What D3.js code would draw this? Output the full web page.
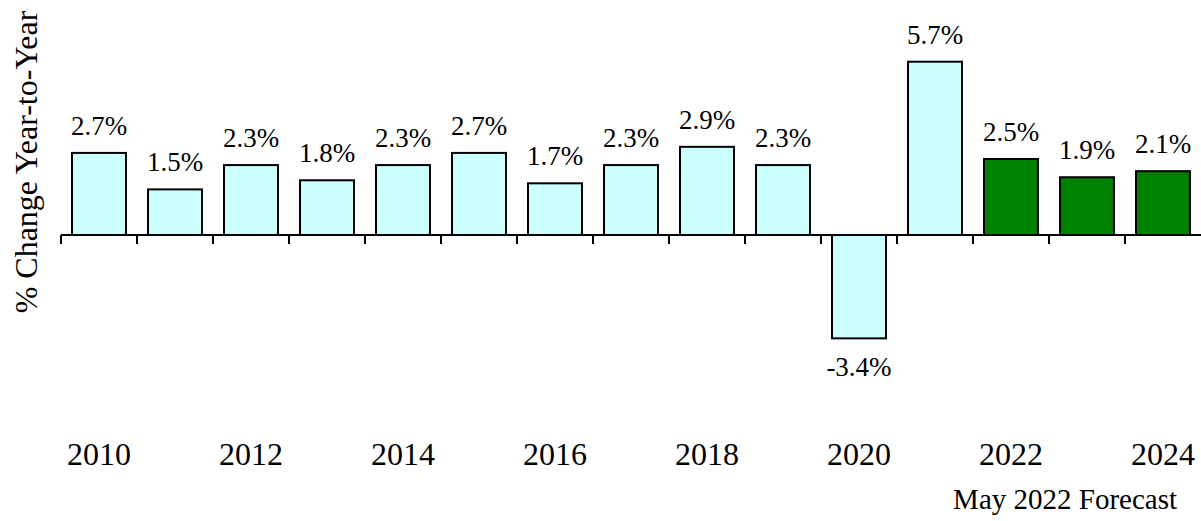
<!DOCTYPE html>
<html>
<head>
<meta charset="utf-8">
<script src="https://cdn.jsdelivr.net/npm/d3@7"></script>
<style>
  body { margin: 0; background: #fff; }
  svg { display: block; }
  text { font-family: "Liberation Serif", "Times New Roman", serif; fill: #000; }
</style>
</head>
<body>
<svg id="chart" width="1201" height="521"></svg>
<script>
// year-to-year % change
var years = [2010, 2011, 2012, 2013, 2014, 2015, 2016, 2017, 2018, 2019, 2020, 2021, 2022, 2023, 2024];
var values = [2.7, 1.5, 2.3, 1.8, 2.3, 2.7, 1.7, 2.3, 2.9, 2.3, -3.4, 5.7, 2.5, 1.9, 2.1];
var isForecast = [false, false, false, false, false, false, false, false, false, false, false, false, true, true, true];
var yearLabels = [2010, 2012, 2014, 2016, 2018, 2020, 2022, 2024];

var svg = d3.select("#chart");

var x = d3.scaleBand().domain(years).range([61, 1201]).paddingInner(0.29).paddingOuter(0.145);
var y = d3.scaleLinear().domain([-4, 6]).range([356.6, 52.6]);

var data = years.map(function(yr, i) {
  return {year: yr, value: values[i], forecast: isForecast[i]};
});

// bars
svg.selectAll("rect.bar")
  .data(data)
  .enter().append("rect")
  .attr("class", "bar")
  .attr("x", function(d) { return x(d.year); })
  .attr("width", x.bandwidth())
  .attr("y", function(d) { return d.value >= 0 ? y(d.value) : y(0); })
  .attr("height", function(d) { return Math.abs(y(d.value) - y(0)); })
  .attr("fill", function(d) { return d.forecast ? "#008000" : "#ccffff"; })
  .attr("stroke", "#000")
  .attr("stroke-width", 2);

// zero axis with category boundary ticks
var step = x.step();
var boundaries = years.map(function(yr) { return x(yr) - step * 0.145; });
svg.append("line")
  .attr("x1", 61).attr("x2", 1201)
  .attr("y1", y(0)).attr("y2", y(0))
  .attr("stroke", "#000").attr("stroke-width", 2);
svg.selectAll("line.tick")
  .data(boundaries)
  .enter().append("line")
  .attr("class", "tick")
  .attr("x1", function(d) { return d; }).attr("x2", function(d) { return d; })
  .attr("y1", y(0)).attr("y2", y(0) + 9)
  .attr("stroke", "#000").attr("stroke-width", 2);

// value labels
svg.selectAll("text.val")
  .data(data)
  .enter().append("text")
  .attr("class", "val")
  .attr("x", function(d) { return x(d.year) + x.bandwidth() / 2; })
  .attr("y", function(d) { return d.value >= 0 ? y(d.value) - 18 : y(d.value) + 38; })
  .attr("text-anchor", "middle")
  .attr("font-size", 27)
  .text(function(d) { return d.value.toFixed(1) + "%"; });

// year labels
svg.selectAll("text.yr")
  .data(yearLabels)
  .enter().append("text")
  .attr("class", "yr")
  .attr("x", function(d) { return x(d) + x.bandwidth() / 2; })
  .attr("y", 465)
  .attr("text-anchor", "middle")
  .attr("font-size", 32)
  .text(function(d) { return d; });

// axis title
svg.append("text")
  .attr("transform", "translate(37,162) rotate(-90)")
  .attr("text-anchor", "middle")
  .attr("font-size", 32)
  .text("% Change Year-to-Year");

svg.append("text")
  .attr("x", 1177).attr("y", 509)
  .attr("text-anchor", "end")
  .attr("font-size", 29)
  .text("May 2022 Forecast");
</script>
</body>
</html>
